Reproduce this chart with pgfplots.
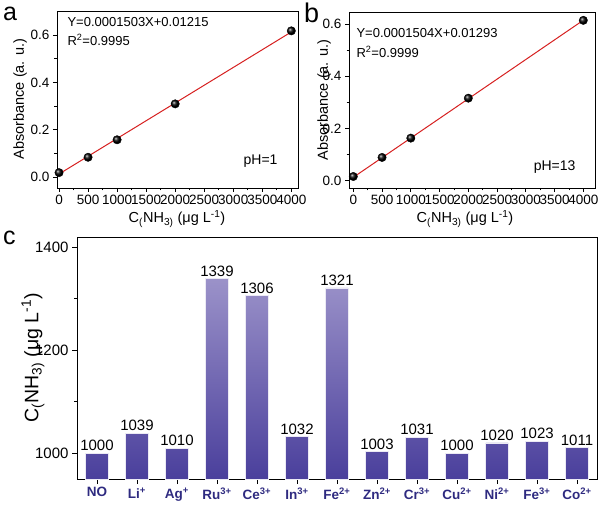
\documentclass[border=0pt]{standalone}
\usepackage{pgfplots}
\pgfplotsset{compat=1.18}
\usepackage{fontspec}
\setmainfont{Liberation Sans}
\definecolor{barTop}{HTML}{9B92C9}
\definecolor{barBot}{HTML}{4A3F9C}
\definecolor{navy}{HTML}{2E2A80}
\definecolor{fitred}{HTML}{D62020}
\newcommand{\fs}[1]{\fontsize{#1}{#1}\selectfont}
\newcommand{\cnh}{C\textsubscript{(}NH\textsubscript{3)}}
\pgfplotsset{
  panel/.style={scale only axis, anchor=north west,
    axis line style={line width=0.9pt},
    tick align=outside, xtick pos=bottom, ytick pos=left,
    tick style={black, line width=0.7pt},
    major tick length=4pt, minor tick length=2.5pt,
    /pgf/number format/assume math mode=true,
    /pgf/number format/set thousands separator={},
    scaled ticks=false,
    ticklabel style={font=\fs{13.5}}},
}
\begin{document}
\begin{tikzpicture}
\useasboundingbox (0pt,0pt) rectangle (600pt,-508pt);

% ---------- panel a ----------
\begin{axis}[panel, at={(57pt,-11pt)}, width=241pt, height=177pt,
  xmin=-35, xmax=4115, ymin=-0.047, ymax=0.702,
  xtick={0,500,...,4000}, minor x tick num=1,
  ytick={0,0.2,0.4,0.6}, minor y tick num=1,
  yticklabel style={/pgf/number format/.cd, fixed, fixed zerofill, precision=1},
  clip=false]
\addplot[fitred, line width=1pt, no marks] coordinates {(0,0.01215) (4000,0.61335)};
\addplot[only marks, mark=ball, mark size=4.2pt, ball color=black] coordinates {
(0,0.018) (500,0.083) (1000,0.157) (2000,0.309) (4000,0.618)};
\end{axis}
\node[rotate=90, font=\fs{14.5}] at (20pt,-99pt) {Absorbance (a. u.)};
\node[font=\fs{14.5}] at (177pt,-219pt) {\cnh\ (μg L\textsuperscript{-1})};
\node[anchor=west, font=\fs{13}] at (64pt,-22pt) {Y=0.0001503X+0.01215};
\node[anchor=west, font=\fs{13}] at (64pt,-40pt) {R\textsuperscript{2}=0.9995};
\node[anchor=east, font=\fs{14}] at (281pt,-161pt) {pH=1};
\node[anchor=base west, font=\fs{25}, inner sep=0pt] at (3pt,-21pt) {a};

% ---------- panel b ----------
\begin{axis}[panel, at={(349pt,-12pt)}, width=246pt, height=176pt,
  xmin=-75, xmax=4203, ymin=-0.028, ymax=0.646,
  xtick={0,500,...,4000}, minor x tick num=1,
  ytick={0,0.2,0.4,0.6}, minor y tick num=1,
  yticklabel style={/pgf/number format/.cd, fixed, fixed zerofill, precision=1},
  clip=false]
\addplot[fitred, line width=1pt, no marks] coordinates {(0,0.01293) (4000,0.61453)};
\addplot[only marks, mark=ball, mark size=4.2pt, ball color=black] coordinates {
(0,0.016) (500,0.089) (1000,0.163) (2000,0.316) (4000,0.614)};
\end{axis}
\node[rotate=90, font=\fs{14.5}] at (324pt,-100pt) {Absorbance (a. u.)};
\node[font=\fs{14.5}] at (465pt,-219pt) {\cnh\ (μg L\textsuperscript{-1})};
\node[anchor=west, font=\fs{13}] at (353pt,-33pt) {Y=0.0001504X+0.01293};
\node[anchor=west, font=\fs{13}] at (353pt,-52pt) {R\textsuperscript{2}=0.9999};
\node[anchor=east, font=\fs{14}] at (579pt,-167pt) {pH=13};
\node[anchor=base west, font=\fs{27}, inner sep=0pt] at (304pt,-23pt) {b};

% ---------- panel c ----------
\begin{axis}[panel, at={(77pt,-237pt)}, width=520pt, height=242pt,
  xmin=-0.5, xmax=12.5, ymin=0, ymax=470,
  y filter/.expression={y-950},
  xtick={0,...,12},
  xticklabels={NO, Li\textsuperscript{+}, Ag\textsuperscript{+}, Ru\textsuperscript{3+}, Ce\textsuperscript{3+}, In\textsuperscript{3+}, Fe\textsuperscript{2+}, Zn\textsuperscript{2+}, Cr\textsuperscript{3+}, Cu\textsuperscript{2+}, Ni\textsuperscript{2+}, Fe\textsuperscript{3+}, Co\textsuperscript{2+}},
  xticklabel style={font=\fs{13.5}\bfseries, text=navy},
  ytick={50,250,450}, yticklabels={1000,1200,1400},
  minor ytick={150,350},
  yticklabel style={font=\fs{15}},
  major tick length=5pt, minor tick length=3pt]
\addplot[ybar, bar width=0.56, draw=white!80!barTop, line width=0.8pt,
  top color=barTop, bottom color=barBot,
  point meta=rawy, nodes near coords,
  every node near coord/.append style={font=\fs{15}, text=black, inner sep=2pt}]
coordinates {(0,1000) (1,1039) (2,1010) (3,1339) (4,1306) (5,1032) (6,1321) (7,1003) (8,1031) (9,1000) (10,1020) (11,1023) (12,1011)};
\end{axis}
\node[rotate=90, font=\fs{19.5}] at (33pt,-358pt) {\cnh\ (μg L\textsuperscript{-1})};
\node[anchor=base west, font=\fs{25}, inner sep=0pt] at (3pt,-244pt) {c};
\end{tikzpicture}
\end{document}
